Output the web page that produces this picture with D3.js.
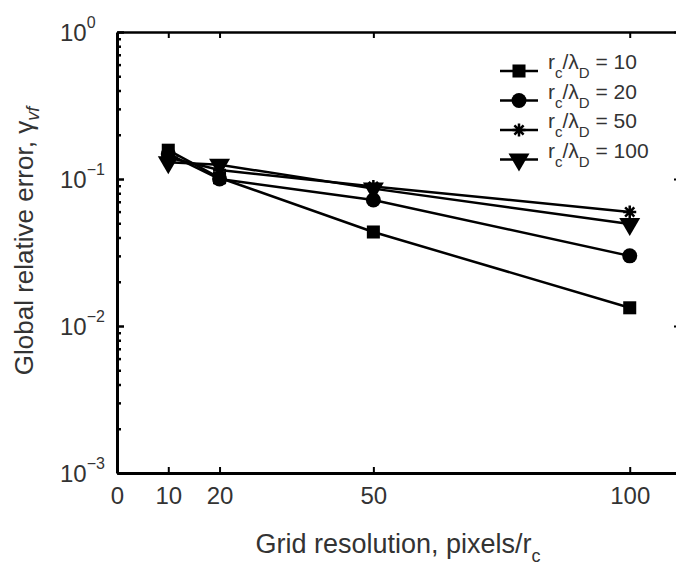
<!DOCTYPE html>
<html>
<head>
<meta charset="utf-8">
<script src="https://cdn.jsdelivr.net/npm/d3@7"></script>
<style>
  body { margin: 0; background: #fff; }
  text { font-family: "Liberation Sans", Arial, sans-serif; fill: #333; }
</style>
</head>
<body>
<div id="chart"></div>
<script>
// data
var resolution = [10, 20, 50, 100];
var ratioLabels = ["10", "20", "50", "100"];
var errSquare = [0.157, 0.102, 0.0436, 0.0133];
var errCircle = [0.148, 0.100, 0.072, 0.0300];
var errStar = [0.140, 0.115, 0.089, 0.0597];
var errTriangle = [0.130, 0.125, 0.086, 0.0494];
var xTickValues = [0, 10, 20, 50, 100];
var yExponents = [0, -1, -2, -3];

var svgWidth = 676;
var svgHeight = 568;

var svg = d3.select("#chart")
  .append("svg")
  .attr("width", svgWidth)
  .attr("height", svgHeight);

var xScale = d3.scaleLinear().domain([0, 110]).range([117, 681]);
var yScale = d3.scaleLog().domain([1e-3, 1]).range([473, 32]);

var series = [
  {label: ratioLabels[0], values: errSquare, marker: "square"},
  {label: ratioLabels[1], values: errCircle, marker: "circle"},
  {label: ratioLabels[2], values: errStar, marker: "star"},
  {label: ratioLabels[3], values: errTriangle, marker: "triangle"}
];

// major / minor tick values on log axis
var majorY = yExponents.map(e => Math.pow(10, e));
var minorY = [];
[-3, -2, -1].forEach(function(e) {
  for (var k = 2; k <= 9; k++) minorY.push(k * Math.pow(10, e));
});

// bottom axis
var bottomAxis = d3.axisBottom(xScale)
  .tickValues(xTickValues)
  .tickSizeInner(-6)
  .tickSizeOuter(0)
  .tickPadding(14)
  .tickFormat(d3.format("d"));

var xAxis = svg.append("g")
  .attr("transform", "translate(0," + yScale(1e-3) + ")")
  .call(bottomAxis);
xAxis.selectAll("text").attr("font-size", "24px").attr("fill", "#333");
xAxis.select(".domain").attr("stroke-width", 3);
xAxis.selectAll(".tick line").attr("stroke-width", 2);

// top axis
var topAxis = d3.axisTop(xScale)
  .tickValues(xTickValues.slice(1))
  .tickSizeInner(-6)
  .tickSizeOuter(0)
  .tickFormat("");
var xTop = svg.append("g")
  .attr("transform", "translate(0," + yScale(1) + ")")
  .call(topAxis);
xTop.select(".domain").attr("stroke-width", 2.5);
xTop.selectAll(".tick line").attr("stroke-width", 2);

// left axis
var leftMinor = svg.append("g")
  .attr("transform", "translate(" + xScale(0) + ",0)")
  .call(d3.axisLeft(yScale).tickValues(minorY).tickSizeInner(-4).tickSizeOuter(0).tickFormat(""));
leftMinor.select(".domain").remove();
leftMinor.selectAll(".tick line").attr("stroke-width", 2.5);

var leftMajor = svg.append("g")
  .attr("transform", "translate(" + xScale(0) + ",0)")
  .call(d3.axisLeft(yScale).tickValues(majorY).tickSizeInner(-7).tickSizeOuter(0).tickFormat(""));
leftMajor.select(".domain").attr("stroke-width", 3);
leftMajor.selectAll(".tick line").attr("stroke-width", 2.5);

// right axis (sits at the clipped edge)
var rightMajor = svg.append("g")
  .attr("transform", "translate(" + xScale(110) + ",0)")
  .call(d3.axisRight(yScale).tickValues(majorY).tickSizeInner(-7).tickSizeOuter(0).tickFormat(""));
rightMajor.selectAll(".tick line").attr("stroke-width", 2);

// y tick labels 10^n
yExponents.forEach(function(e) {
  var yy = yScale(Math.pow(10, e));
  var t = svg.append("text")
    .attr("x", 60)
    .attr("y", yy + 9)
    .attr("font-size", "24px");
  t.append("tspan").text("10");
  t.append("tspan")
    .attr("font-size", "16px")
    .attr("dy", -13)
    .text(e === 0 ? "0" : "\u2212" + Math.abs(e));
});

// series lines and markers
var line = d3.line()
  .x(d => xScale(d[0]))
  .y(d => yScale(d[1]));

function drawMarker(g, type, cx, cy) {
  if (type === "square") {
    g.append("path")
      .attr("d", d3.symbol().type(d3.symbolSquare).size(170)())
      .attr("transform", "translate(" + cx + "," + cy + ")")
      .attr("fill", "#000");
  } else if (type === "circle") {
    g.append("circle")
      .attr("cx", cx).attr("cy", cy).attr("r", 7.5)
      .attr("fill", "#000");
  } else if (type === "triangle") {
    g.append("path")
      .attr("d", d3.symbol().type(d3.symbolTriangle).size(190)())
      .attr("transform", "translate(" + cx + "," + cy + ") rotate(180)")
      .attr("fill", "#000");
  } else {
    var r = 6.5, p = "";
    for (var a = 0; a < 8; a++) {
      var ang = a * Math.PI / 4;
      p += "M" + cx + "," + cy + "L" + (cx + r * Math.cos(ang)) + "," + (cy + r * Math.sin(ang));
    }
    g.append("path").attr("d", p).attr("stroke", "#000").attr("stroke-width", 2.5);
  }
}

var plot = svg.append("g");
series.forEach(function(s) {
  var pts = resolution.map((x, i) => [x, s.values[i]]);
  plot.append("path")
    .datum(pts)
    .attr("d", line)
    .attr("fill", "none")
    .attr("stroke", "#000")
    .attr("stroke-width", 2.5);
  pts.forEach(function(p) {
    drawMarker(plot, s.marker, xScale(p[0]), yScale(p[1]));
  });
});

// legend
var legend = svg.append("g");
series.forEach(function(s, i) {
  var ly = 71 + i * 29.5;
  legend.append("line")
    .attr("x1", 500).attr("x2", 538)
    .attr("y1", ly).attr("y2", ly)
    .attr("stroke", "#000").attr("stroke-width", 2.5);
  drawMarker(legend, s.marker, 519, ly);
  var t = legend.append("text")
    .attr("x", 548)
    .attr("y", ly - 2)
    .attr("font-size", "21px");
  t.append("tspan").text("r");
  t.append("tspan").attr("font-size", "15px").attr("dy", 9).text("c");
  t.append("tspan").attr("dy", -9).text("/\u03bb");
  t.append("tspan").attr("font-size", "15px").attr("dy", 9).text("D");
  t.append("tspan").attr("dy", -9).text(" = " + s.label);
});

// axis titles
var xt = svg.append("text")
  .attr("x", 398)
  .attr("y", 553)
  .attr("text-anchor", "middle")
  .attr("font-size", "27px");
xt.append("tspan").text("Grid resolution, pixels/r");
xt.append("tspan").attr("font-size", "18px").attr("dy", 9).text("c");

var yt = svg.append("text")
  .attr("transform", "translate(33,241) rotate(-90)")
  .attr("text-anchor", "middle")
  .attr("font-size", "26px");
yt.append("tspan").text("Global relative error, \u03b3");
yt.append("tspan").attr("font-size", "18px").attr("dy", 6).attr("font-style", "italic").text("vf");
</script>
</body>
</html>
